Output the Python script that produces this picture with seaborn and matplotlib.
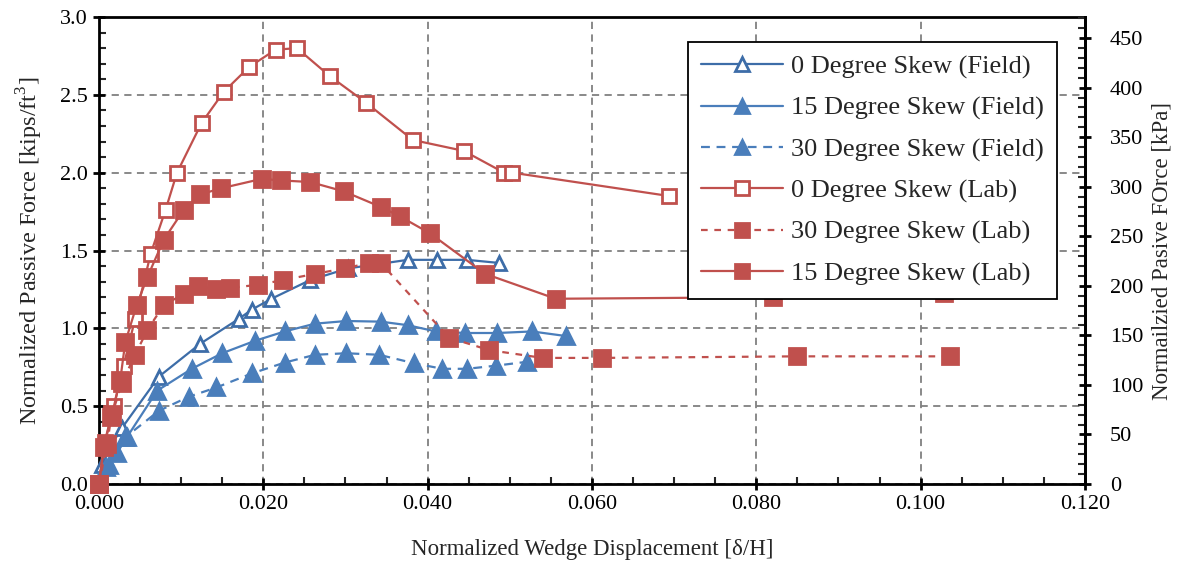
import matplotlib
matplotlib.use("Agg")
import matplotlib.pyplot as plt
from matplotlib.lines import Line2D
from matplotlib.ticker import MultipleLocator, FormatStrFormatter
import seaborn as sns
import pandas as pd

# ---------------- data ----------------
f0_x = [0.0004, 0.0015, 0.0028, 0.0073, 0.0123, 0.0170, 0.0186, 0.0210, 0.0257, 0.0303, 0.0376, 0.0412, 0.0448, 0.0487]
f0_y = [0.12, 0.25, 0.36, 0.69, 0.90, 1.06, 1.12, 1.19, 1.31, 1.385, 1.44, 1.44, 1.44, 1.42]

f15_x = [0.0012, 0.0022, 0.0034, 0.0071, 0.0113, 0.0150, 0.0190, 0.0226, 0.0263, 0.0301, 0.0343, 0.0376, 0.0410, 0.0446, 0.0485, 0.0527, 0.0569]
f15_y = [0.12, 0.20, 0.30, 0.60, 0.74, 0.84, 0.92, 0.98, 1.03, 1.047, 1.043, 1.02, 0.98, 0.97, 0.97, 0.98, 0.95]

f30_x = [0.0008, 0.0032, 0.0073, 0.0109, 0.0143, 0.0186, 0.0226, 0.0263, 0.0301, 0.0341, 0.0384, 0.0418, 0.0448, 0.0483, 0.0521]
f30_y = [0.11, 0.30, 0.47, 0.56, 0.62, 0.71, 0.78, 0.83, 0.84, 0.83, 0.775, 0.74, 0.74, 0.76, 0.785]

l0_x = [0.0, 0.0007, 0.0018, 0.0030, 0.0044, 0.0063, 0.0081, 0.0095, 0.0125, 0.0152, 0.0183, 0.0215, 0.0241, 0.0281, 0.0325, 0.0382, 0.0444, 0.0493, 0.0503, 0.0694]
l0_y = [0.0, 0.27, 0.50, 0.76, 1.06, 1.48, 1.76, 2.00, 2.32, 2.52, 2.68, 2.79, 2.80, 2.62, 2.45, 2.21, 2.14, 2.00, 2.00, 1.85]

l30_x = [0.0, 0.0010, 0.0015, 0.0028, 0.0044, 0.0059, 0.0079, 0.0103, 0.0121, 0.0143, 0.0160, 0.0194, 0.0224, 0.0263, 0.0299, 0.0329, 0.0343, 0.0426, 0.0475, 0.0540, 0.0612, 0.0849, 0.1036]
l30_y = [0.0, 0.26, 0.43, 0.65, 0.83, 0.99, 1.15, 1.22, 1.27, 1.25, 1.26, 1.28, 1.31, 1.35, 1.385, 1.42, 1.42, 0.94, 0.86, 0.81, 0.81, 0.82, 0.82]

l15_x = [0.0, 0.0006, 0.0016, 0.0026, 0.0032, 0.0046, 0.0059, 0.0079, 0.0103, 0.0123, 0.0149, 0.0198, 0.0222, 0.0257, 0.0298, 0.0343, 0.0366, 0.0403, 0.0470, 0.0556, 0.0820, 0.1028]
l15_y = [0.0, 0.24, 0.45, 0.67, 0.91, 1.15, 1.33, 1.57, 1.76, 1.86, 1.90, 1.96, 1.95, 1.94, 1.88, 1.78, 1.72, 1.61, 1.35, 1.19, 1.20, 1.23]

labels = ["0 Degree Skew (Field)", "15 Degree Skew (Field)", "30 Degree Skew (Field)",
          "0 Degree Skew (Lab)", "30 Degree Skew (Lab)", "15 Degree Skew (Lab)"]
xticks = [0.0, 0.02, 0.04, 0.06, 0.08, 0.10, 0.12]
yticks = [0.0, 0.5, 1.0, 1.5, 2.0, 2.5, 3.0]
kpa_ticks = list(range(0, 451, 50))
KIP_TO_KPA = 157.087

# ---------------- style ----------------
sns.set_style("white")
plt.rcParams["font.family"] = ["Liberation Serif", "DejaVu Serif"]
plt.rcParams["mathtext.fontset"] = "custom"
plt.rcParams["mathtext.rm"] = "Liberation Serif"

BLUE = "#4A7EBB"
BLUE_D = "#3D6DA8"
RED = "#C0504D"
TICK_FS = 16
LABEL_FS = 16.5
LEG_FS = 19

fig = plt.figure(figsize=(11.95, 5.67), dpi=100)
ax = fig.add_axes([0.0828, 0.1464, 0.8251, 0.8236])

series = [
    (f0_x, f0_y, dict(color=BLUE_D, marker="^", mfc="white", mec=BLUE_D, ls="-", ms=10)),
    (f15_x, f15_y, dict(color=BLUE, marker="^", mfc=BLUE, mec=BLUE, ls="-", ms=11)),
    (f30_x, f30_y, dict(color=BLUE, marker="^", mfc=BLUE, mec=BLUE, ls=(0, (4, 3)), ms=11)),
    (l0_x, l0_y, dict(color=RED, marker="s", mfc="white", mec=RED, ls="-", ms=10.5)),
    (l30_x, l30_y, dict(color=RED, marker="s", mfc=RED, mec=RED, ls=(0, (3, 3)), ms=11)),
    (l15_x, l15_y, dict(color=RED, marker="s", mfc=RED, mec=RED, ls="-", ms=11)),
]

handles = []
for (xs, ys, st), lab in zip(series, labels):
    df = pd.DataFrame({"x": xs, "y": ys})
    sns.lineplot(data=df, x="x", y="y", ax=ax, sort=False, estimator=None,
                 color=st["color"], marker=st["marker"], markersize=st["ms"],
                 markerfacecolor=st["mfc"], markeredgecolor=st["mec"],
                 markeredgewidth=2, linewidth=1.6, linestyle=st["ls"],
                 legend=False, clip_on=False, zorder=3)
    handles.append(Line2D([0], [0], color=st["color"], marker=st["marker"],
                          markersize=st["ms"] * 0.95, markerfacecolor=st["mfc"],
                          markeredgecolor=st["mec"], markeredgewidth=2,
                          linewidth=1.6, linestyle=st["ls"]))

ax.set_xlim(0, 0.12)
ax.set_ylim(0, 3.0)
ax.set_xticks(xticks)
ax.set_yticks(yticks)
ax.xaxis.set_major_formatter(FormatStrFormatter("%.3f"))
ax.yaxis.set_major_formatter(FormatStrFormatter("%.1f"))
ax.xaxis.set_minor_locator(MultipleLocator(0.005))
ax.yaxis.set_minor_locator(MultipleLocator(0.1))
ax.grid(True, which="major", color="#808080", linestyle=(0, (4, 3)), linewidth=1.3)
ax.set_axisbelow(True)

for s in ax.spines.values():
    s.set_color("black")
    s.set_linewidth(2)
ax.tick_params(axis="both", which="major", direction="inout", length=8, width=2,
               labelsize=TICK_FS, colors="black", pad=4)
ax.tick_params(axis="both", which="minor", direction="in", length=5, width=1.5)
ax.tick_params(axis="y", which="both", left=True, right=False)
ax.tick_params(axis="x", which="both", bottom=True, top=False)

ax.set_xlabel("Normalized Wedge Displacement [δ/H]", fontsize=LABEL_FS, labelpad=18)
ax.set_ylabel("Normalized Passive Force [kips/ft$^3$]", fontsize=17.5, labelpad=11)

ax2 = ax.twinx()
ax2.set_ylim(0, 3.0 * KIP_TO_KPA)
ax2.set_yticks(kpa_ticks)
ax2.yaxis.set_minor_locator(MultipleLocator(10))
for s in ax2.spines.values():
    s.set_visible(False)
ax2.spines["right"].set_visible(True)
ax2.spines["right"].set_linewidth(2)
ax2.spines["right"].set_color("black")
ax2.tick_params(axis="y", which="major", direction="inout", length=8, width=2,
                labelsize=TICK_FS, colors="black", pad=14)
ax2.tick_params(axis="y", which="minor", direction="in", length=5, width=1.5)
ax2.set_ylabel("Normailzied Pasive FOrce [kPa]", fontsize=LABEL_FS, labelpad=6)
ax2.grid(False)

leg = ax2.legend(handles, labels, loc="upper left",
                 bbox_to_anchor=(688 / 1195, 1 - 42 / 567), bbox_transform=fig.transFigure,
                 fontsize=LEG_FS, frameon=True, fancybox=False, framealpha=1,
                 edgecolor="black", handlelength=3.1, labelspacing=0.66,
                 borderpad=0.5, handletextpad=0.3, borderaxespad=0)
leg.get_frame().set_linewidth(1.3)

fig.savefig("out.png", dpi=100)
